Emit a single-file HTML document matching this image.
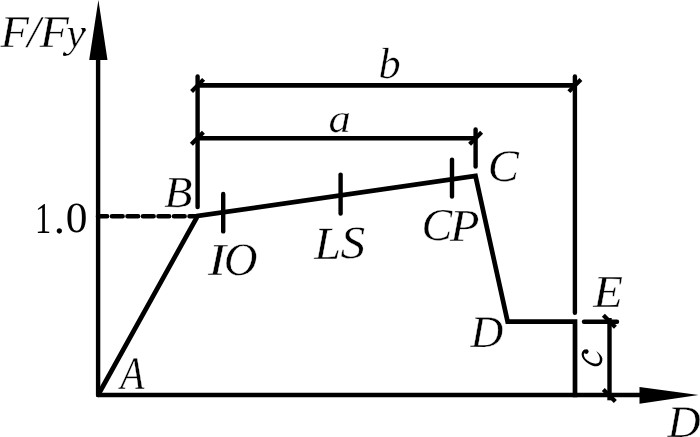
<!DOCTYPE html>
<html><head><meta charset="utf-8">
<style>
html,body{margin:0;padding:0;background:#fff;}
body{width:700px;height:437px;overflow:hidden;}
svg{display:block;will-change:transform;}
text{font-family:"Liberation Serif",serif;font-style:italic;fill:#000;text-rendering:geometricPrecision;stroke:#fff;stroke-width:0.4px;}
</style></head>
<body>
<svg width="700" height="437" viewBox="0 0 700 437">
<g stroke="#000" stroke-width="4.4" fill="none">
  <!-- axes -->
  <line x1="98.1" y1="58" x2="98.1" y2="395.1" stroke-linecap="round"/>
  <line x1="98.1" y1="395.1" x2="642" y2="395.1" stroke-width="4.5" stroke-linecap="round"/>
  <!-- dashed 1.0 -->
  <line x1="98" y1="216.3" x2="197.5" y2="216.3" stroke-width="4.6" stroke-linecap="round" stroke-dasharray="10.6 4.9" stroke-dashoffset="1.5"/>
  <!-- curve -->
  <polyline points="98.1,395 197.6,216 475.5,176 507.6,321.6 575,321.6 575,397.2" stroke-width="4.7" stroke-linejoin="miter"/>
  <!-- extension lines -->
  <g stroke-linecap="round">
    <line x1="197.6" y1="76.5" x2="197.6" y2="207"/>
    <line x1="574.9" y1="76.5" x2="574.9" y2="312.8"/>
    <line x1="475.6" y1="129.4" x2="475.6" y2="166.5"/>
    <line x1="584" y1="321.7" x2="617" y2="321.7"/>
    <line x1="223.2" y1="194" x2="223.2" y2="231.4"/>
    <line x1="340.6" y1="174.6" x2="340.6" y2="213.5"/>
    <line x1="452" y1="159.6" x2="452" y2="196.5"/>
  </g>
  <!-- dimension lines -->
  <line x1="197.5" y1="85.45" x2="575" y2="85.45" stroke-width="4.8"/>
  <line x1="197.5" y1="138.25" x2="475.5" y2="138.25" stroke-width="4.7"/>
  <line x1="609.5" y1="318" x2="609.5" y2="400.3"/>
  <!-- slashes -->
  <g stroke-width="4.2">
    <line x1="191.59" y1="91.41" x2="203.61" y2="79.39"/>
    <line x1="568.89" y1="91.61" x2="580.91" y2="79.59"/>
    <line x1="191.39" y1="144.31" x2="203.41" y2="132.29"/>
    <line x1="469.59" y1="144.31" x2="481.61" y2="132.29"/>
    <line x1="603.39" y1="315.29" x2="615.41" y2="327.31"/>
    <line x1="603.29" y1="389.49" x2="615.31" y2="401.51"/>
  </g>
</g>
<!-- arrows -->
<polygon points="98.4,0 89.2,60 107.5,60" fill="#000"/>
<polygon points="639.5,387.1 698.6,395.1 639.5,403.8" fill="#000"/>
<!-- labels -->
<g>
  <text transform="translate(0.56,47.03) scale(1.027,1)" font-size="45.30">F</text>
  <text transform="translate(27.35,46.60) scale(1.039,1)" font-size="45.40">/</text>
  <text transform="translate(39.86,47.03) scale(1.053,1)" font-size="45.30">F</text>
  <text transform="translate(66.43,47.25) scale(1.024,1)" font-size="41.63">y</text>
  <text transform="translate(34.98,232.71) scale(0.739,1)" font-size="43.85" style="font-style:normal;stroke:none">1</text>
  <text transform="translate(53.71,233.20) scale(1.000,1)" font-size="44.73" style="font-style:normal;stroke:none">.</text>
  <text transform="translate(65.71,231.99) scale(1.008,1)" font-size="43.06" style="font-style:normal;stroke:none">0</text>
  <text transform="translate(164.20,206.57) scale(1.044,1)" font-size="44.17">B</text>
  <text transform="translate(208.06,275.23) scale(1.177,1)" font-size="45.80">I</text>
  <text transform="translate(223.87,274.65) scale(1.005,1)" font-size="46.56">O</text>
  <text transform="translate(314.28,258.83) scale(1.045,1)" font-size="46.05">L</text>
  <text transform="translate(340.48,258.46) scale(1.069,1)" font-size="46.24">S</text>
  <text transform="translate(421.53,239.91) scale(1.015,1)" font-size="45.46">C</text>
  <text transform="translate(449.97,240.79) scale(1.055,1)" font-size="45.78">P</text>
  <text transform="translate(487.71,180.94) scale(1.036,1)" font-size="45.09">C</text>
  <text transform="translate(470.44,346.79) scale(1.011,1)" font-size="44.90">D</text>
  <text transform="translate(593.32,307.00) scale(1.061,1)" font-size="45.88">E</text>
  <text transform="translate(120.13,389.04) scale(0.844,1)" font-size="46.75">A</text>
  <text transform="translate(667.41,436.99) scale(1.021,1)" font-size="44.90">D</text>
  <text transform="translate(328.59,132.15) scale(1.104,1)" font-size="40.48">a</text>
  <text transform="translate(378.55,78.01) scale(1.018,1)" font-size="43.59">b</text>
  <path d="M584.95,349.57 C584.63,349.25 583.30,350.26 582.75,350.95 C582.20,351.64 581.74,352.68 581.65,353.69 C581.56,354.70 581.74,355.89 582.20,356.99 C582.66,358.09 583.39,359.19 584.40,360.29 C585.41,361.39 586.87,362.66 588.24,363.58 C589.61,364.50 591.27,365.32 592.64,365.78 C594.01,366.24 595.29,366.47 596.48,366.33 C597.67,366.19 598.86,365.69 599.78,364.96 C600.70,364.23 601.57,363.07 601.98,361.93 C602.39,360.79 602.52,359.28 602.25,358.09 C601.98,356.90 601.29,355.94 600.33,354.79 C599.37,353.65 596.75,351.22 596.48,351.22 C596.21,351.22 598.13,353.65 598.68,354.79 C599.23,355.94 599.64,356.99 599.78,358.09 C599.92,359.19 599.88,360.51 599.51,361.38 C599.14,362.25 598.45,362.94 597.58,363.31 C596.71,363.68 595.48,363.76 594.29,363.58 C593.10,363.40 591.72,362.85 590.44,362.21 C589.16,361.57 587.60,360.61 586.59,359.74 C585.58,358.87 584.86,357.91 584.40,356.99 C583.94,356.07 583.81,354.93 583.85,354.24 C583.89,353.55 584.49,353.65 584.67,352.87 C584.85,352.09 585.27,349.89 584.95,349.57Z" fill="#000"/>
  <circle cx="586.3" cy="351.6" r="2.3" fill="#000"/>
  <circle cx="84.0" cy="29.9" r="1.8" fill="#000"/>
  <circle cx="64.7" cy="54.1" r="1.7" fill="#000"/>
</g>
</svg>
</body></html>
